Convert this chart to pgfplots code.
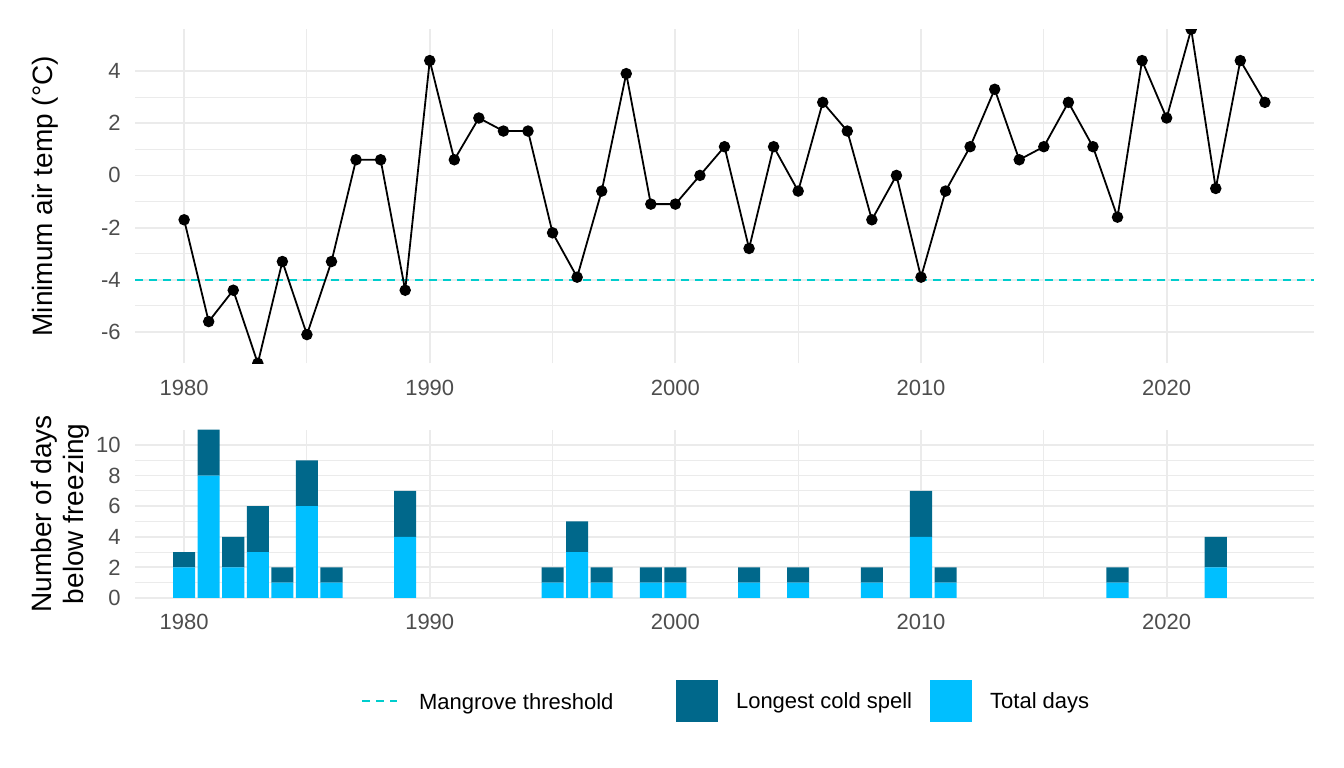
\documentclass[border=0pt]{standalone}
\usepackage{fontspec}
\setmainfont{Liberation Sans}
\usepackage{pgfplots}
\usepackage{pgfplotstable}
\pgfplotsset{compat=1.18}

\definecolor{ggrid}{HTML}{EBEBEB}
\definecolor{ticktext}{HTML}{4D4D4D}
\definecolor{cspell}{HTML}{00688B}
\definecolor{ctotal}{HTML}{00BFFF}
\definecolor{cmang}{HTML}{00CDCD}

% minimum air temperature per year (deg C)
\pgfplotstableread{
year temp
1980 -1.7
1981 -5.6
1982 -4.4
1983 -7.2
1984 -3.3
1985 -6.1
1986 -3.3
1987 0.6
1988 0.6
1989 -4.4
1990 4.4
1991 0.6
1992 2.2
1993 1.7
1994 1.7
1995 -2.2
1996 -3.9
1997 -0.6
1998 3.9
1999 -1.1
2000 -1.1
2001 0.0
2002 1.1
2003 -2.8
2004 1.1
2005 -0.6
2006 2.8
2007 1.7
2008 -1.7
2009 0.0
2010 -3.9
2011 -0.6
2012 1.1
2013 3.3
2014 0.6
2015 1.1
2016 2.8
2017 1.1
2018 -1.6
2019 4.4
2020 2.2
2021 5.6
2022 -0.5
2023 4.4
2024 2.8
}\temps

% days below freezing (stacked: total at bottom, longest spell on top)
\pgfplotstableread{
year total longest
1980 2 1
1981 8 3
1982 2 2
1983 3 3
1984 1 1
1985 6 3
1986 1 1
1989 4 3
1995 1 1
1996 3 2
1997 1 1
1999 1 1
2000 1 1
2003 1 1
2005 1 1
2008 1 1
2010 4 3
2011 1 1
2018 1 1
2022 2 2
}\freeze

\pgfplotsset{
  ggmin/.style={
    scale only axis, width=589.5bp,
    xmin=1978, xmax=2026,
    enlargelimits=false,
    axis line style={draw=none},
    major tick length=0pt, minor tick length=0pt,
    grid=both,
    major grid style={color=ggrid, line width=0.9bp},
    minor grid style={color=ggrid, line width=0.45bp},
    xtick={1980,1990,...,2020}, minor x tick num=1,
    minor y tick num=1,
    tick label style={font=\fontsize{11bp}{13bp}\selectfont, text=ticktext, inner sep=0pt},
    /pgf/number format/assume math mode=true,
    /pgf/number format/1000 sep={},
    xticklabel style={anchor=north},
    yticklabel style={anchor=east, xshift=-7bp},
    label style={font=\fontsize{14bp}{16bp}\selectfont, text=black},
    legend style={draw=none, fill=none, inner sep=0pt, outer sep=0pt,
      font=\fontsize{11bp}{13bp}\selectfont,
      nodes={inner sep=0pt, text depth=0pt}},
    legend cell align=left,
  }
}

\begin{document}
\begin{tikzpicture}
\useasboundingbox (0,0) rectangle (672bp,384bp);

\begin{axis}[ggmin,
  at={(67.5bp,202.35bp)}, anchor=south west, height=167bp,
  ymin=-7.2, ymax=5.6, ytick={-6,-4,...,4},
  clip marker paths=true,
  xticklabel style={yshift=-8.3bp},
  ylabel={Minimum air temp (°C)},
  ylabel style={at={(rel axis cs:-0.0763,0.5)}, anchor=center},
  legend style={at={(rel axis cs:0.1917,-1.0111)}, anchor=west, column sep=10.5bp},
  legend image code/.code={\draw[#1] (0bp,0bp) -- (17.5bp,0bp);},
]
\addplot[cmang, line width=1bp, dash pattern=on 4bp off 3bp] coordinates {(1978,-4) (2026,-4)};
\addlegendentry{Mangrove threshold}
\addplot[black, line width=0.9bp, mark=*, mark size=2.4bp, mark options={fill=black, solid}]
  table[x=year, y=temp] {\temps};
\end{axis}

\begin{axis}[ggmin,
  at={(67.5bp,85bp)}, anchor=south west, height=84.15bp,
  ymin=0, ymax=11, ytick={0,2,...,10},
  ybar stacked, bar width=0.9,
  xticklabel style={yshift=-7.8bp},
  ylabel={Number of days\\below freezing},
  ylabel style={at={(rel axis cs:-0.0636,0.5)}, anchor=center, align=center},
  legend columns=2, reverse legend,
  legend style={at={(rel axis cs:0.4589,-0.612)}, anchor=west, column sep=9bp},
  legend image code/.code={\fill[#1] (0bp,-10.5bp) rectangle (21bp,10.5bp);},
]
\addplot[fill=ctotal, draw=none] table[x=year, y=total] {\freeze};
\addlegendentry{Total days}
\addplot[fill=cspell, draw=none] table[x=year, y=longest] {\freeze};
\addlegendentry{Longest cold spell}
\end{axis}
\end{tikzpicture}
\end{document}
